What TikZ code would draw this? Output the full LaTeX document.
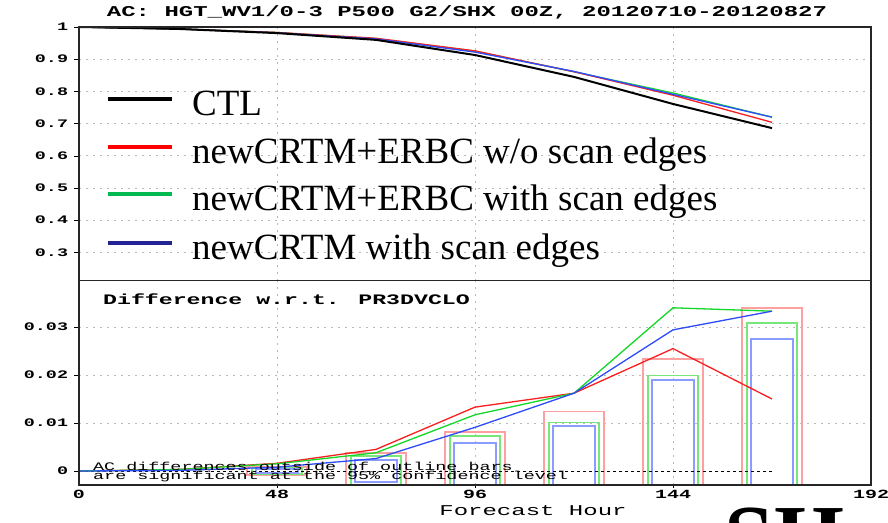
\documentclass[tikz,border=0pt]{standalone}
\usepackage{fontspec}
\setmainfont{Liberation Serif}
\newfontfamily\gradsfont[FakeStretch=1.6]{Liberation Mono}

\definecolor{exred}{RGB}{250,30,30}
\definecolor{exgreen}{RGB}{20,215,40}
\definecolor{exblue}{RGB}{45,75,250}
\definecolor{legred}{RGB}{255,0,0}
\definecolor{leggreen}{RGB}{0,185,80}
\definecolor{legblue}{RGB}{35,35,150}
\definecolor{barred}{RGB}{255,160,160}
\definecolor{bargreen}{RGB}{120,230,120}
\definecolor{barblue}{RGB}{140,155,255}

\tikzset{
  frame/.style={draw=black!85, line width=1.3pt},
  gridline/.style={black!28, dash pattern=on 2pt off 5pt, line width=0.9pt},
  ticklabel/.style={anchor=east, inner sep=0pt, font=\gradsfont\bfseries\fontsize{11.5}{12}\selectfont},
  xlabel/.style={anchor=north, inner sep=0pt, font=\gradsfont\bfseries\fontsize{12.5}{13}\selectfont},
  legline/.style={line width=3.5pt},
  legtext/.style={anchor=base west, inner sep=0pt, font=\fontsize{37}{40}\selectfont},
  ctlline/.style={black, line width=2pt},
  expline/.style={line width=1.3pt},
  barbox/.style={line width=1.8pt},
}

\begin{document}
\begin{tikzpicture}[x=1pt, y=1pt]
  \clip (0,0) rectangle (888,522);
  \fill[white] (0,0) rectangle (888,522);

  % title
  \node[font=\gradsfont\bfseries\fontsize{15}{16}\selectfont, inner sep=0pt] (title) at (467,510)
    {AC: HGT\_WV1/0-3 P500 G2/SHX 00Z, 20120710-20120827};

  % upper panel: anomaly correlation
  \begin{scope}[shift={(79,173)}, x=4.125pt, y=322pt]
    \draw[gridline] (0,0.9) -- (192,0.9);
    \draw[gridline] (0,0.8) -- (192,0.8);
    \draw[gridline] (0,0.7) -- (192,0.7);
    \draw[gridline] (0,0.6) -- (192,0.6);
    \draw[gridline] (0,0.5) -- (192,0.5);
    \draw[gridline] (0,0.4) -- (192,0.4);
    \draw[gridline] (0,0.3) -- (192,0.3);
    \draw[gridline] (48,0.2112) -- (48,1);
    \draw[gridline] (96,0.2112) -- (96,1);
    \draw[gridline] (144,0.2112) -- (144,1);

    \node[ticklabel] (y10) at (-2.6,1) {1};
    \node[ticklabel] (y09) at (-2.6,0.9) {0.9};
    \node[ticklabel] (y08) at (-2.6,0.8) {0.8};
    \node[ticklabel] (y07) at (-2.6,0.7) {0.7};
    \node[ticklabel] (y06) at (-2.6,0.6) {0.6};
    \node[ticklabel] (y05) at (-2.6,0.5) {0.5};
    \node[ticklabel] (y04) at (-2.6,0.4) {0.4};
    \node[ticklabel] (y03) at (-2.6,0.3) {0.3};
    \draw[black] (-1.2,1) -- (0,1);
    \draw[black] (-1.2,0.9) -- (0,0.9);
    \draw[black] (-1.2,0.8) -- (0,0.8);
    \draw[black] (-1.2,0.7) -- (0,0.7);
    \draw[black] (-1.2,0.6) -- (0,0.6);
    \draw[black] (-1.2,0.5) -- (0,0.5);
    \draw[black] (-1.2,0.4) -- (0,0.4);
    \draw[black] (-1.2,0.3) -- (0,0.3);

    \draw[expline, exgreen] (0,1) -- (24,0.994) -- (48,0.983) -- (72,0.964) -- (96,0.925) -- (120,0.861) -- (144,0.795) -- (168,0.720);
    \draw[expline, exred] (0,1) -- (24,0.994) -- (48,0.983) -- (72,0.965) -- (96,0.926) -- (120,0.861) -- (144,0.788) -- (168,0.704);
    \draw[expline, exblue] (0,1) -- (24,0.994) -- (48,0.982) -- (72,0.963) -- (96,0.922) -- (120,0.862) -- (144,0.791) -- (168,0.720);
    \draw[ctlline] plot[mark=o, mark size=2.2pt, mark options={line width=1.2pt}] coordinates
      {(0,1) (24,0.994) (48,0.981) (72,0.960) (96,0.913) (120,0.845) (144,0.761) (168,0.686)};
  \end{scope}

  % legend
  \draw[legline, black] (108,423) -- (172,423);
  \draw[legline, legred] (108,375) -- (172,375);
  \draw[legline, leggreen] (108,328) -- (172,328);
  \draw[legline, legblue] (108,279) -- (172,279);
  \node[legtext] (legctl) at (192,406) {CTL};
  \node[legtext] (legred) at (192,358) {newCRTM+ERBC w/o scan edges};
  \node[legtext] (leggreen) at (192,311) {newCRTM+ERBC with scan edges};
  \node[legtext] (legblue) at (192,262) {newCRTM with scan edges};

  % lower panel: differences
  \begin{scope}[shift={(79,51)}, x=4.125pt, y=4800pt]
    \begin{scope}
      \clip (0,-0.0029) rectangle (192,0.0396);
      \draw[gridline] (0,0.01) -- (192,0.01);
      \draw[gridline] (0,0.02) -- (192,0.02);
      \draw[gridline] (0,0.03) -- (192,0.03);
      \draw[gridline] (48,-0.0029) -- (48,0.0396);
      \draw[gridline] (96,-0.0029) -- (96,0.0396);
      \draw[gridline] (144,-0.0029) -- (144,0.0396);

      % significance bars
      \draw[barbox, barred] (40.8,-0.0008) rectangle (55.2,0.0008);
      \draw[barbox, bargreen] (42,-0.0006) rectangle (54,0.0006);
      \draw[barbox, barblue] (43,-0.0004) rectangle (53,0.0004);
      \draw[barbox, barred] (64.8,-0.0038) rectangle (79.2,0.0038);
      \draw[barbox, bargreen] (66,-0.0031) rectangle (78,0.0031);
      \draw[barbox, barblue] (67,-0.0023) rectangle (77,0.0023);
      \draw[barbox, barred] (88.8,-0.0082) rectangle (103.2,0.0082);
      \draw[barbox, bargreen] (90,-0.0073) rectangle (102,0.0073);
      \draw[barbox, barblue] (91,-0.0058) rectangle (101,0.0058);
      \draw[barbox, barred] (112.8,-0.0124) rectangle (127.2,0.0124);
      \draw[barbox, bargreen] (114,-0.0101) rectangle (126,0.0101);
      \draw[barbox, barblue] (115,-0.0094) rectangle (125,0.0094);
      \draw[barbox, barred] (136.8,-0.0233) rectangle (151.2,0.0233);
      \draw[barbox, bargreen] (138,-0.0199) rectangle (150,0.0199);
      \draw[barbox, barblue] (139,-0.0190) rectangle (149,0.0190);
      \draw[barbox, barred] (160.8,-0.0340) rectangle (175.2,0.0340);
      \draw[barbox, bargreen] (162,-0.0309) rectangle (174,0.0309);
      \draw[barbox, barblue] (163,-0.0275) rectangle (173,0.0275);

      \draw[black, dashed, line width=0.8pt] (0,0) -- (168,0);
      \draw[expline, exred] (0,0) -- (24,0.0003) -- (48,0.0016) -- (72,0.0045) -- (96,0.0133) -- (120,0.0162) -- (144,0.0255) -- (168,0.0150);
      \draw[expline, exgreen] (0,0) -- (24,0.0003) -- (48,0.0015) -- (72,0.0038) -- (96,0.0117) -- (120,0.0162) -- (144,0.0340) -- (168,0.0333);
      \draw[expline, exblue] (0,0) -- (24,0.0001) -- (48,0.0008) -- (72,0.0026) -- (96,0.0091) -- (120,0.0162) -- (144,0.0294) -- (168,0.0333);
    \end{scope}

    \node[ticklabel] (d03) at (-2.6,0.03) {0.03};
    \node[ticklabel] (d02) at (-2.6,0.02) {0.02};
    \node[ticklabel] (d01) at (-2.6,0.01) {0.01};
    \node[ticklabel] (d00) at (-2.6,0) {0};
    \draw[black] (-1.2,0.03) -- (0,0.03);
    \draw[black] (-1.2,0.02) -- (0,0.02);
    \draw[black] (-1.2,0.01) -- (0,0.01);
    \draw[black] (-1.2,0) -- (0,0);
    \draw[black] (48,-0.0029) -- (48,-0.0036);
    \draw[black] (96,-0.0029) -- (96,-0.0036);
    \draw[black] (144,-0.0029) -- (144,-0.0036);

    \node[xlabel] (x000) at (0,-0.0040) {0};
    \node[xlabel] (x048) at (48,-0.0040) {48};
    \node[xlabel] (x096) at (96,-0.0040) {96};
    \node[xlabel] (x144) at (144,-0.0040) {144};
    \node[xlabel] (x192) at (192,-0.0040) {192};
  \end{scope}

  \node[anchor=west, inner sep=0pt, font=\gradsfont\bfseries\fontsize{14.5}{15}\selectfont] (difftitle) at (103,223)
    {Difference w.r.t. PR3DVCLO};
  \node[anchor=west, inner sep=0pt, font=\gradsfont\fontsize{11.5}{12}\selectfont] (note1) at (93,56)
    {AC differences outside of outline bars};
  \node[anchor=west, inner sep=0pt, font=\gradsfont\fontsize{11.5}{12}\selectfont] (note2) at (93,45)
    {are significant at the 95\% confidence level};
  \node[anchor=center, inner sep=0pt, font=\gradsfont\fontsize{15}{16}\selectfont] (xtitle) at (533,11)
    {Forecast Hour};

  % frames
  \draw[frame] (79,37) rectangle (871,495);
  \draw[black!85, line width=1pt] (79,241) -- (871,241);

  \node[anchor=base west, inner sep=0pt, font=\bfseries\fontsize{90}{90}\selectfont] (shmark) at (724,-45) {SH};
\end{tikzpicture}
\end{document}
